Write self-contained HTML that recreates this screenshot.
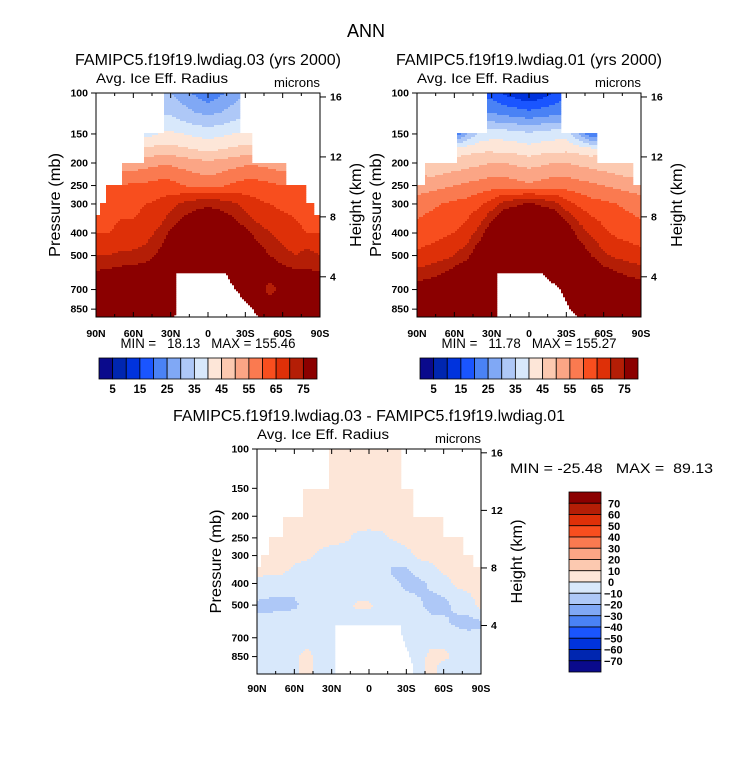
<!DOCTYPE html>
<html><head><meta charset="utf-8">
<style>
body{margin:0;background:#fff;}
svg{display:block;font-family:"Liberation Sans",sans-serif;}
</style></head>
<body>
<svg id="chart" width="733" height="769" viewBox="0 0 733 769" xmlns="http://www.w3.org/2000/svg">
<rect width="733" height="769" fill="#fff"/>
<text x="366" y="37" font-size="18" text-anchor="middle">ANN</text>
</svg>
<script>
const lats=[90,80,70,60,50,40,30,20,10,0,-10,-20,-30,-40,-50,-60,-70,-80,-90];
const levels=[100,125,150,175,200,250,300,350,400,500,600,700,850,925];
const n=null;
const field1=[
[n,n,n,n,n,n,30,27,24,21,24,27,30,n,n,n,n,n,n],
[n,n,n,n,n,n,35,33,31,30,31,33,35,n,n,n,n,n,n],
[n,n,n,n,38,40,41,40,39,38,39,40,41,40,n,n,n,n,n],
[n,n,n,n,46,47,47,46,45,44,45,46,47,47,n,n,n,n,n],
[n,n,52,52,53,54,54,53,52,51,52,53,54,54,53,52,n,n,n],
[n,60,60,61,61,62,62,60,59,58,59,61,62,62,61,60,60,n,n],
[63,64,64,64,65,66,68,71,73,74,73,71,68,66,65,64,64,63,63],
[64,64,65,65,66,68,72,76,78,79,78,76,72,69,67,66,65,64,64],
[65,65,66,67,68,71,76,80,82,83,82,80,77,73,70,68,66,65,65],
[70,70,71,71,72,76,80,85,87,88,87,85,81,78,75,72,70,72,70],
[76,77,78,79,80,82,85,88,90,90,90,88,85,82,80,78,77,76,76],
[80,80,80,80,81,82,83,85,85,85,85,85,85,80,71,80,80,80,80],
[85,85,85,85,85,85,85,85,85,85,85,85,85,85,85,85,85,85,85],
[85,85,85,85,85,85,85,85,85,85,85,85,85,85,85,85,85,85,85]];
const field2=[
[n,n,n,n,n,n,18,14,12,10,12,15,18,n,n,n,n,n,n],
[n,n,n,n,n,n,26,25,24,23,24,25,26,n,n,n,n,n,n],
[n,n,n,20,30,36,38,38,37,36,37,38,38,30,20,n,n,n,n],
[n,n,n,42,43,44,44,43,43,42,43,43,44,43,42,n,n,n,n],
[n,45,46,47,48,49,50,50,49,48,49,50,50,49,48,47,46,45,45],
[52,53,54,55,56,57,58,58,57,56,57,58,58,57,56,55,54,53,52],
[58,59,60,61,62,64,67,72,74,76,74,72,67,64,62,61,60,59,58],
[60,61,62,63,65,68,74,80,82,83,82,80,74,69,66,64,62,61,60],
[62,63,64,65,67,72,80,85,87,88,87,85,80,73,69,66,64,63,62],
[66,67,68,70,73,80,86,90,92,93,92,90,86,80,75,71,69,68,67],
[72,73,75,78,82,86,90,92,94,94,94,92,90,86,82,78,76,74,73],
[78,80,82,85,88,90,92,92,92,92,92,92,92,90,88,85,82,80,78],
[82,84,86,88,90,92,92,92,92,92,92,92,92,92,90,88,86,84,82],
[86,86,88,90,92,92,92,92,92,92,92,92,92,92,92,90,88,86,86]];
const field3=[
[n,n,n,n,n,n,5,5,5,5,5,5,5,n,n,n,n,n,n],
[n,n,n,n,n,n,5,5,5,5,5,5,5,n,n,n,n,n,n],
[n,n,n,n,5,5,5,5,5,5,5,5,5,5,n,n,n,n,n],
[n,n,n,n,5,5,5,5,5,5,5,5,5,5,n,n,n,n,n],
[n,n,5,5,5,5,5,5,5,5,5,5,5,5,5,5,n,n,n],
[n,4,4,4,4,4,3,2,-2,-3,-2,1,3,4,4,8,4,n,n],
[4,4,4,3,2,-2,-4,-5,-6,-6,-6,-5,-3,2,3,4,4,4,n],
[3,2,2,-2,-4,-6,-8,-5,-6,-6,-6,-12,-12,-6,-3,2,3,3,3],
[-3,-4,-5,-6,-6,-7,-6,-5,-5,-5,-6,-8,-12,-13,-8,-5,2,3,3],
[-12,-13,-13,-12,-6,-5,-5,-3,1,1,-2,-5,-6,-8,-14,-13,-8,-4,3],
[-8,-6,-4,-4,-4,-5,-5,-4,-3,-3,-3,-4,-4,-5,-6,-8,-12,-14,-12],
[-4,-3,-3,-4,-4,-4,-3,-3,-3,-3,-3,-3,-3,-4,-4,-4,-5,-6,-6],
[-3,-3,-3,-2,3,-3,-4,-4,-4,-4,-4,-4,-4,-4,3,3,-3,-3,-3],
[-3,-3,-3,-2,3,-3,-3,-3,-3,-3,-3,-3,-3,-3,3,-3,-3,-3,-3]];
const bandP=[100,150,200,250,300];
const band1N=[35,52,69,82,87], band1S=[-26,-36,-62,-78,-85];
const band2N=[33,58,83,90,90], band2S=[-25,-55,-84,-90,-90];
const band3N=[32,53,69,80,86], band3S=[-25,-35,-60,-75,-84];
const holeP=[600,700,850,950];
const hole1N=[25,26,26,27], hole1S=[-15,-22,-36,-43];
const hole2N=[26,26,26,26], hole2S=[-12,-25,-33,-43];
const hole3N=[27,27,27,27], hole3S=[-25,-27,-33,-36];

const palette=["#0a0a8c","#0026b0","#0033dd","#1a55ff","#4a82f5","#80a8f5","#aec8f7","#d8e8fb","#fde6d8","#fcc9b0","#fba585","#fa7a50","#f84e1e","#de3008","#b41e06","#8b0000"];
const latTicks=[90,60,30,0,-30,-60,-90];
const latLabels=["90N","60N","30N","0","30S","60S","90S"];
const presTicks=[100,150,200,250,300,400,500,700,850];
const heightTicks=[16,12,8,4];
const cbLabels1=[5,15,25,35,45,55,65,75];
const cbLabels3=[70,60,50,40,30,20,10,0,-10,-20,-30,-40,-50,-60,-70];

const svg=document.getElementById('chart');
const NS="http://www.w3.org/2000/svg";
function mk(tag,attrs,parent){const e=document.createElementNS(NS,tag);for(const k in attrs)e.setAttribute(k,attrs[k]);(parent||svg).appendChild(e);return e;}
function txt(s,attrs,parent){const e=mk('text',attrs,parent);e.textContent=s;return e;}
function heightToP(z){return 1117*Math.exp(-z/6.74);}

function inDomain(o,lat,p){
  if(p<bandP[bandP.length-1]+35){
    let b=0; for(let i=0;i<bandP.length;i++) if(bandP[i]<=p) b=i;
    if(lat>o.bandN[b]||lat<o.bandS[b]) return false;
  }
  if(p>=o.holeTop){
    let i=0; while(i<holeP.length-2 && holeP[i+1]<p) i++;
    const t=Math.max(0,Math.min(1,(p-holeP[i])/(holeP[i+1]-holeP[i])));
    const N=o.holeN[i]+(o.holeN[i+1]-o.holeN[i])*t;
    const S=o.holeS[i]+(o.holeS[i+1]-o.holeS[i])*t;
    if(lat<N&&lat>S) return false;
  }
  return true;
}
function sample(field,lat,p){
  const fi=(90-lat)/10, lp=Math.log(p);
  let c0=Math.max(0,Math.min(17,Math.floor(fi))); const tc=Math.max(0,Math.min(1,fi-c0));
  let r0=0; while(r0<levels.length-2 && Math.log(levels[r0+1])<lp) r0++;
  let tr=(lp-Math.log(levels[r0]))/(Math.log(levels[r0+1])-Math.log(levels[r0])); tr=Math.max(0,Math.min(1,tr));
  let s=0,w=0;
  const pts=[[r0,c0,(1-tr)*(1-tc)],[r0,c0+1,(1-tr)*tc],[r0+1,c0,tr*(1-tc)],[r0+1,c0+1,tr*tc]];
  for(const [r,c,ww] of pts){const v=field[r][c]; if(v!==null&&ww>0){s+=v*ww;w+=ww;}}
  if(w>0) return s/w;
  const rr=tr<0.5?r0:r0+1, cc=Math.round(fi);
  for(let d=1;d<19;d++){
    for(const c of [cc-d,cc+d]){ if(c>=0&&c<19&&field[rr][c]!==null) return field[rr][c]; }
    for(const r of [rr-d,rr+d]){ if(r>=0&&r<levels.length&&field[r][Math.max(0,Math.min(18,cc))]!==null) return field[r][Math.max(0,Math.min(18,cc))]; }
  }
  return 0;
}

function panel(o){
  const g=mk('g',{});
  
  
  const xs=lat=>o.x0+(90-lat)/180*o.w;
  const ys=p=>o.y0+o.k*Math.log(p/100);
  const step=2;
  const cells=mk('g',{},g);
  
  
  for(let py=o.y0;py<o.y0+o.h;py+=step){
    const pc=100*Math.exp((py+step/2-o.y0)/o.k);
    let runStart=null, runIdx=null;
    const flush=(endX)=>{
      if(runStart===null) return;
      const r=mk('rect',{x:runStart,y:py,width:endX-runStart+0.3,height:Math.min(step,o.y0+o.h-py)+0.3,fill:palette[runIdx]},cells);
      
      
      runStart=null;
    };
    for(let px=o.x0;px<o.x0+o.w;px+=step){
      const lat=90-(px+step/2-o.x0)/o.w*180;
      let idx=null;
      if(inDomain(o,lat,pc)){
        const v=sample(o.field,lat,pc);
        idx=Math.max(0,Math.min(15,Math.floor(o.bin(v))));
      }
      if(idx!==runIdx){ flush(px); if(idx!==null){runStart=px;} runIdx=idx; }
    }
    flush(o.x0+o.w); runIdx=null;
  }
  const frame=mk('rect',{x:o.x0,y:o.y0,width:o.w,height:o.h,fill:'none',stroke:'#000','stroke-width':1},g);
  
  
  for(let lat=90;lat>=-90;lat-=15){
    const x=xs(lat), L=(lat%30===0)?5:3;
    mk('line',{x1:x,x2:x,y1:o.y0+o.h,y2:o.y0+o.h-L,stroke:'#000'},g);
    mk('line',{x1:x,x2:x,y1:o.y0,y2:o.y0+L,stroke:'#000'},g);
  }
  latTicks.forEach((lat,i)=>{
    const t=txt(latLabels[i],{x:xs(lat),y:o.latY,'font-size':10.5,'font-weight':'bold','text-anchor':'middle'},g);
    
    
  });
  presTicks.forEach(p=>{
    const y=ys(p);
    mk('line',{x1:o.x0-5,x2:o.x0,y1:y,y2:y,stroke:'#000'},g);
    const t=txt(String(p),{x:o.x0-8,y:y+3.5,'font-size':10.5,'font-weight':'bold','text-anchor':'end'},g);
    
    
  });
  heightTicks.forEach(z=>{
    const y=ys(heightToP(z));
    mk('line',{x1:o.x0+o.w,x2:o.x0+o.w+6,y1:y,y2:y,stroke:'#000'},g);
    const t=txt(String(z),{x:o.x0+o.w+10,y:y+3.5,'font-size':10.5,'font-weight':'bold'},g);
    
    
  });
  const yt=txt('Pressure (mb)',{transform:`translate(${o.x0-36},${o.y0+o.h/2}) rotate(-90)`,'font-size':16,'text-anchor':'middle',textLength:104,lengthAdjust:'spacingAndGlyphs'},g);
  
  
  const ht=txt('Height (km)',{transform:`translate(${o.x0+o.w+41},${o.y0+o.h/2}) rotate(-90)`,'font-size':16,'text-anchor':'middle',textLength:84,lengthAdjust:'spacingAndGlyphs'},g);
  
  
  const tt=txt(o.title,{x:o.x0+o.w/2,y:o.y0-28,'font-size':15.5,'text-anchor':'middle',textLength:o.titleLen,lengthAdjust:'spacingAndGlyphs'},g);
  
  
  const lt=txt('Avg. Ice Eff. Radius',{x:o.x0,y:o.y0-10,'font-size':13.5,textLength:132,lengthAdjust:'spacingAndGlyphs'},g);
  
  
  const ut=txt('microns',{x:o.x0+o.w,y:o.y0-6,'font-size':13,'text-anchor':'end',textLength:46,lengthAdjust:'spacingAndGlyphs'},g);
  
  
  const mm=txt(o.minmax,{x:o.mmX,y:o.mmY,'font-size':13.5,'text-anchor':o.mmAnchor,textLength:o.mmLen,lengthAdjust:'spacingAndGlyphs'},g);
  mm.setAttribute('style','white-space:pre');
  
  
  return g;
}

const common1={w:224,y0:93,h:224,k:101,latY:337,mmY:348,mmAnchor:'middle',titleLen:266,mmLen:175};
panel(Object.assign({name:'panel-lwdiag03',x0:96,field:field1,bin:v=>v/5,bandN:band1N,bandS:band1S,holeTop:596,holeN:hole1N,holeS:hole1S,title:'FAMIPC5.f19f19.lwdiag.03 (yrs 2000)',minmax:'MIN =   18.13   MAX = 155.46',mmX:208},common1));
panel(Object.assign({name:'panel-lwdiag01',x0:417,field:field2,bin:v=>v/5,bandN:band2N,bandS:band2S,holeTop:596,holeN:hole2N,holeS:hole2S,title:'FAMIPC5.f19f19.lwdiag.01 (yrs 2000)',minmax:'MIN =   11.78   MAX = 155.27',mmX:529},common1));
panel({name:'panel-difference',x0:257,w:224,y0:449,h:225,k:97,latY:692,field:field3,bin:v=>(v+80)/10,bandN:band3N,bandS:band3S,holeTop:620,holeN:hole3N,holeS:hole3S,title:'FAMIPC5.f19f19.lwdiag.03 - FAMIPC5.f19f19.lwdiag.01',titleLen:392,minmax:'MIN = -25.48   MAX =  89.13',mmX:510,mmY:473,mmAnchor:'start',mmLen:203});

[99,420].forEach((cx,bi)=>{
  const g=mk('g',{});
  
  
  const W=218,bw=W/16;
  palette.forEach((c,i)=>{
    const r=mk('rect',{x:cx+i*bw,y:358,width:bw,height:21,fill:c,stroke:'#000','stroke-width':0.8},g);
    
    
  });
  cbLabels1.forEach(v=>{
    const t=txt(String(v),{x:cx+(v/5)*bw,y:393,'font-size':11.5,'font-weight':'bold','text-anchor':'middle'},g);
    
    
  });
});
(function(){
  const g=mk('g',{});
  
  
  const x=569,y0=492,H=180,bh=H/16;
  palette.slice().reverse().forEach((c,i)=>{
    const r=mk('rect',{x:x,y:y0+i*bh,width:32,height:bh,fill:c,stroke:'#000','stroke-width':0.8},g);
    
    
  });
  cbLabels3.forEach(v=>{
    const i=(70-v)/10+1;
    const t=txt(String(v).replace('-','\u2212'),{x:v<0?604:608,y:y0+i*bh+4,'font-size':11,'font-weight':'bold'},g);
    
    
  });
})();
</script>
</body></html>
